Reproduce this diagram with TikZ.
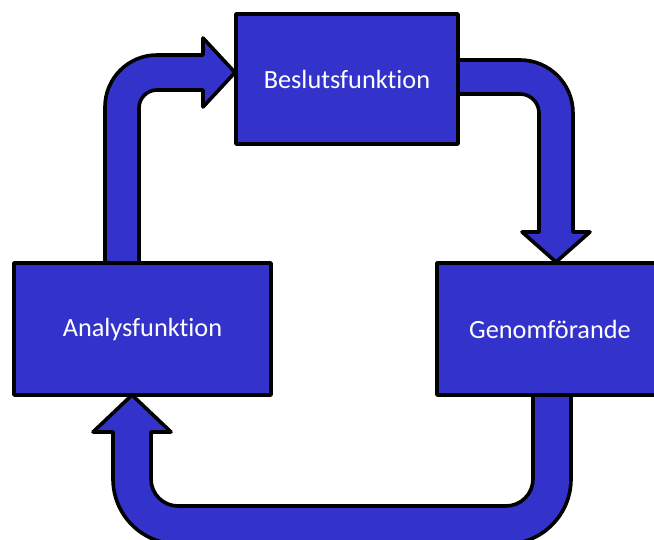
\documentclass[tikz,border=0pt]{standalone}
\usepackage{fontspec}
\setmainfont{Carlito}[Ligatures={NoCommon}]
\definecolor{boxblue}{HTML}{3333CC}
\begin{document}
\begin{tikzpicture}[x=1pt,y=-1pt,
  blk/.style={draw=black,fill=boxblue,line width=3.6pt,line join=round},
  boxnode/.style={blk,rectangle,inner sep=0pt,text=white,font=\fontsize{26.3}{30}\selectfont},
  barrow/.style={blk}]
\useasboundingbox (0,0) rectangle (654,540);
% arrows first
\draw[barrow] (105,268) -- (105,107) arc[start angle=180,end angle=270,radius=52]
  -- (203,55) -- (203,38) -- (235,72.5) -- (203,107) -- (203,90) -- (157,90)
  arc[start angle=270,end angle=180,radius=18] -- (139,268) -- cycle;
\draw[barrow] (450,60) -- (520,60) arc[start angle=270,end angle=360,radius=53]
  -- (573,232) -- (590,232) -- (556,262) -- (522,232) -- (539,232) -- (539,113)
  arc[start angle=0,end angle=-90,radius=19] -- (450,94) -- cycle;
\draw[barrow] (533,390) -- (533,479) arc[start angle=0,end angle=90,radius=27]
  -- (178,506) arc[start angle=90,end angle=180,radius=27]
  -- (151,432) -- (171,432) -- (132,395) -- (93,432) -- (113,432) -- (113,479)
  arc[start angle=180,end angle=90,radius=65] -- (506,544)
  arc[start angle=90,end angle=0,radius=65] -- (571,390) -- cycle;
% boxes
\node[boxnode,minimum width=222pt,minimum height=130pt] (beslut) at (347,79) {Beslutsfunktion};
\node[boxnode,minimum width=257pt,minimum height=132pt] (analys) at (142.5,329) {Analysfunktion};
\node[boxnode,minimum width=226pt,minimum height=132pt] (genom) at (550,329) {Genomförande};
\end{tikzpicture}
\end{document}
